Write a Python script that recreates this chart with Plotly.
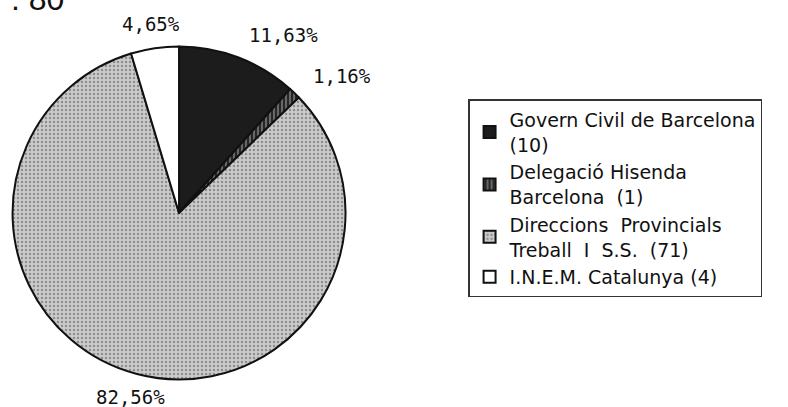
import math
import plotly.graph_objects as go

labels = [
    "Govern Civil de Barcelona<br>(10)",
    "Delegació Hisenda<br>Barcelona  (1)",
    "Direccions  Provincials<br>Treball  I  S.S.  (71)",
    "I.N.E.M. Catalunya (4)",
]
values = [10, 1, 71, 4]
colors = ["#1c1c1c", "#262626", "#cbcbcb", "#ffffff"]
pattern_shapes = ["", "|", ".", ""]
pattern_fg = ["#1c1c1c", "#ffffff", "#505050", "#ffffff"]

W, H = 788, 407
dom_x = [0.0159, 0.4385]
dom_y = [0.0676, 0.8857]

fig = go.Figure(
    go.Pie(
        labels=labels,
        values=values,
        sort=False,
        direction="clockwise",
        rotation=0,
        marker=dict(
            colors=colors,
            line=dict(color="#111111", width=2),
            pattern=dict(
                shape=pattern_shapes,
                fgcolor=pattern_fg,
                fillmode="overlay",
                size=4,
                solidity=0.3,
            ),
        ),
        textinfo="none",
        domain=dict(x=dom_x, y=dom_y),
        hoverinfo="label+value+percent",
    )
)

# percentage labels placed around the pie from the data
total = sum(values)
cx = (dom_x[0] + dom_x[1]) / 2
cy = (dom_y[0] + dom_y[1]) / 2
r_px = min(W * (dom_x[1] - dom_x[0]), H * (dom_y[1] - dom_y[0])) / 2
R = 1.145 * r_px
annotations = []
cum = 0
for v in values:
    theta = math.radians(90 - 360 * (cum + v / 2) / total)
    cum += v
    c = math.cos(theta)
    if abs(c) < 0.3:
        xa = "center"
    elif c > 0:
        xa = "left"
    else:
        xa = "right"
    txt = f"{100 * v / total:.2f}%".replace(".", ",")
    annotations.append(
        dict(
            text=txt,
            x=cx + R * c / W,
            y=cy + R * math.sin(theta) / H,
            xref="paper",
            yref="paper",
            xanchor=xa,
            yanchor="middle",
            showarrow=False,
            font=dict(family="DejaVu Sans Mono", size=19, color="#111111"),
        )
    )

annotations.append(
    dict(
        text=". 80",
        x=0.0,
        y=1.0,
        xref="paper",
        yref="paper",
        xanchor="left",
        yanchor="top",
        xshift=9,
        yshift=21,
        showarrow=False,
        font=dict(family="Liberation Sans", size=32, color="#111111"),
    )
)

fig.update_layout(
    width=W,
    height=H,
    paper_bgcolor="white",
    plot_bgcolor="white",
    margin=dict(l=0, r=0, t=0, b=0),
    showlegend=True,
    legend=dict(
        x=0.594,
        y=0.756,
        xanchor="left",
        yanchor="top",
        bordercolor="#333333",
        borderwidth=1.5,
        bgcolor="white",
        font=dict(family="DejaVu Sans", size=19, color="#111111"),
    ),
    annotations=annotations,
)

fig.write_html(
    "out.html",
    config={"displayModeBar": False},
    post_script="document.body.style.margin='0';",
)
